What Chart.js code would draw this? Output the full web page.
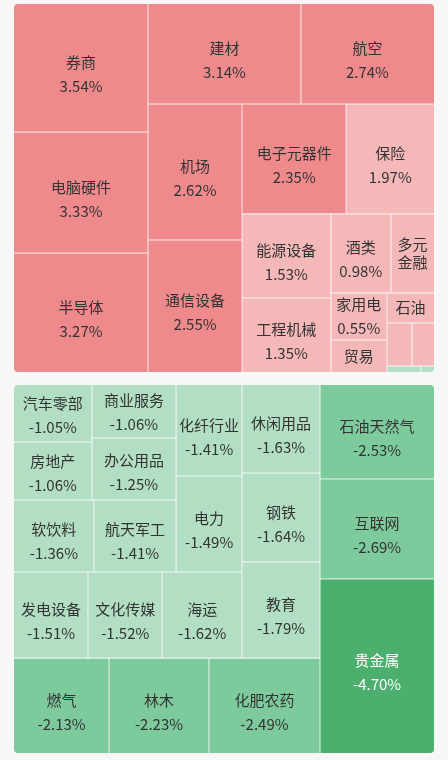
<!DOCTYPE html>
<html>
<head>
<meta charset="utf-8">
<script src="https://cdn.jsdelivr.net/npm/chart.js@4.4.1/dist/chart.umd.min.js"></script>
<style>
html,body{margin:0;padding:0;background:#f7f7f7;width:448px;height:760px;overflow:hidden}
canvas{position:absolute;left:0;display:block}
</style>
</head>
<body>
<canvas id="gainCanvas" width="448" height="378" style="top:0"></canvas>
<canvas id="lossCanvas" width="448" height="382" style="top:378px"></canvas>
<script>
// ---- data ----
const gainNames  = ['券商','电脑硬件','半导体','建材','航空','机场','通信设备','电子元器件','保险','能源设备','工程机械','酒类','多元金融','家用电','贸易','石油','','','',''];
const gainValues = [3.54, 3.33, 3.27, 3.14, 2.74, 2.62, 2.55, 2.35, 1.97, 1.53, 1.35, 0.98, 0.70, 0.55, 0.37, 0.29, 0.22, 0.20, -0.04, -0.016];

const lossNames  = ['贵金属','互联网','石油天然气','化肥农药','林木','燃气','教育','钢铁','休闲用品','海运','文化传媒','发电设备','电力','化纤行业','航天军工','软饮料','办公用品','商业服务','房地产','汽车零部'];
const lossValues = [-4.70, -2.69, -2.53, -2.49, -2.23, -2.13, -1.79, -1.64, -1.63, -1.62, -1.52, -1.51, -1.49, -1.41, -1.41, -1.36, -1.25, -1.06, -1.06, -1.05];

// ---- style ----
const FONT = '15px "Noto Sans CJK SC", "Noto Sans", sans-serif';
function cellColor(v){
  if (v >= 2) return '#EE8A8C';
  if (v > 0) return '#F5B8B8';
  if (v > -2) return '#B2DEC4';
  if (v > -3) return '#7DCB9C';
  return '#4CAF6E';
}
function textColor(v){ return v <= -3 ? '#ffffff' : '#333333'; }

// ---- squarified layout (in chart-area proportional units) ----
function worst(row, side){
  let s = 0, mx = -Infinity, mn = Infinity;
  row.forEach(a => { s += a; mx = Math.max(mx, a); mn = Math.min(mn, a); });
  return Math.max(side*side*mx/(s*s), (s*s)/(side*side*mn));
}
function squarify(values, W, H){
  const items = values.map((v,i) => ({v: Math.abs(v), i}));
  items.sort((a,b) => b.v - a.v);
  const total = items.reduce((s,it) => s + it.v, 0);
  const k = W*H/total;
  const areas = items.map(it => it.v*k);
  let x = 0, y = 0, w = W, h = H, idx = 0;
  const out = [];
  while (idx < areas.length){
    const side = Math.min(w, h);
    let row = [areas[idx]], j = idx + 1;
    while (j < areas.length){
      const cand = row.concat(areas[j]);
      if (worst(cand, side) <= worst(row, side)) { row = cand; j++; } else break;
    }
    const s = row.reduce((a,b) => a+b, 0);
    if (w >= h){
      const t = s/h; let yy = y;
      row.forEach((a,n) => { const hh = a/t; out.push({i: items[idx+n].i, x, y: yy, w: t, h: hh}); yy += hh; });
      x += t; w -= t;
    } else {
      const t = s/w; let xx = x;
      row.forEach((a,n) => { const ww = a/t; out.push({i: items[idx+n].i, x: xx, y, w: ww, h: t}); xx += ww; });
      y += t; h -= t;
    }
    idx = j;
  }
  return out.map(c => ({i: c.i, x0: c.x/W, y0: c.y/H, x1: (c.x+c.w)/W, y1: (c.y+c.h)/H}));
}

const treemapPlugin = {
  id: 'treemapCells',
  afterDatasetsDraw(chart){
    const ds = chart.data.datasets[0];
    const names = ds.treeNames, values = ds.treeValues;
    const area = chart.chartArea;
    const xs = chart.scales.x, ys = chart.scales.y;
    const cells = squarify(values, area.right - area.left, area.bottom - area.top);
    const ctx = chart.ctx;
    ctx.save();
    ctx.beginPath();
    ctx.roundRect(area.left, area.top, area.right - area.left, area.bottom - area.top, 4);
    ctx.clip();
    const rects = cells.map(c => {
      const ax = xs.getPixelForValue(c.x0), bx = xs.getPixelForValue(c.x1);
      const ay = ys.getPixelForValue(c.y0), by = ys.getPixelForValue(c.y1);
      return {i: c.i, L: Math.min(ax,bx), R: Math.max(ax,bx), T: Math.min(ay,by), B: Math.max(ay,by)};
    });
    rects.forEach(r => {
      ctx.fillStyle = cellColor(values[r.i]);
      ctx.fillRect(r.L, r.T, r.R - r.L, r.B - r.T);
    });
    // separators
    ctx.fillStyle = 'rgba(255,255,255,0.75)';
    rects.forEach(r => {
      if (r.R < area.right - 0.5) ctx.fillRect(Math.round(r.R) - 0.5, r.T, 1, r.B - r.T);
      if (r.B < area.bottom - 0.5) ctx.fillRect(r.L, Math.round(r.B) - 0.5, r.R - r.L, 1);
    });
    // labels
    ctx.font = FONT;
    ctx.textAlign = 'center';
    ctx.textBaseline = 'middle';
    rects.forEach(r => {
      const name = names[r.i];
      if (!name) return;
      const v = values[r.i];
      const valTxt = v.toFixed(2) + '%';
      const cw = r.R - r.L, ch = r.B - r.T;
      const cx = (r.L + r.R)/2, cy = (r.T + r.B)/2;
      const nw = ctx.measureText(name).width, vw = ctx.measureText(valTxt).width;
      ctx.fillStyle = textColor(v);
      if (nw <= cw - 3 && vw <= cw - 6 && ch >= 46){
        const off = Math.min(6.5, Math.max(0, (ch - 50)/4));
        ctx.fillText(name, cx, cy + off - 12);
        ctx.fillText(valTxt, cx, cy + off + 12);
      } else if (nw <= cw - 6 && ch >= 20){
        ctx.fillText(name, cx, cy);
      } else {
        const charW = nw / name.length;
        const cpl = Math.floor((cw - 4)/charW);
        if (cpl < 1) return;
        const lines = [];
        for (let p = 0; p < name.length; p += cpl) lines.push(name.slice(p, p + cpl));
        const lh = 18.5;
        if (lines.length*lh > ch - 4) return;
        lines.forEach((ln, n) => ctx.fillText(ln, cx, cy + (n - (lines.length-1)/2)*lh));
      }
    });
    ctx.restore();
  }
};

function makeTreemap(id, names, values, rotated, pad){
  return new Chart(document.getElementById(id), {
    type: 'scatter',
    data: { datasets: [{ data: [], treeNames: names, treeValues: values }] },
    options: {
      responsive: false,
      animation: false,
      devicePixelRatio: 1,
      layout: { padding: pad },
      plugins: { legend: { display: false }, tooltip: { enabled: false } },
      scales: {
        x: { type: 'linear', min: 0, max: 1, display: false, reverse: rotated },
        y: { type: 'linear', min: 0, max: 1, display: false, reverse: !rotated }
      }
    },
    plugins: [treemapPlugin]
  });
}

makeTreemap('gainCanvas', gainNames, gainValues, false, {top: 4, left: 14, right: 14, bottom: 6});
makeTreemap('lossCanvas', lossNames, lossValues, true, {top: 7, left: 14, right: 14, bottom: 7});
</script>
</body>
</html>
